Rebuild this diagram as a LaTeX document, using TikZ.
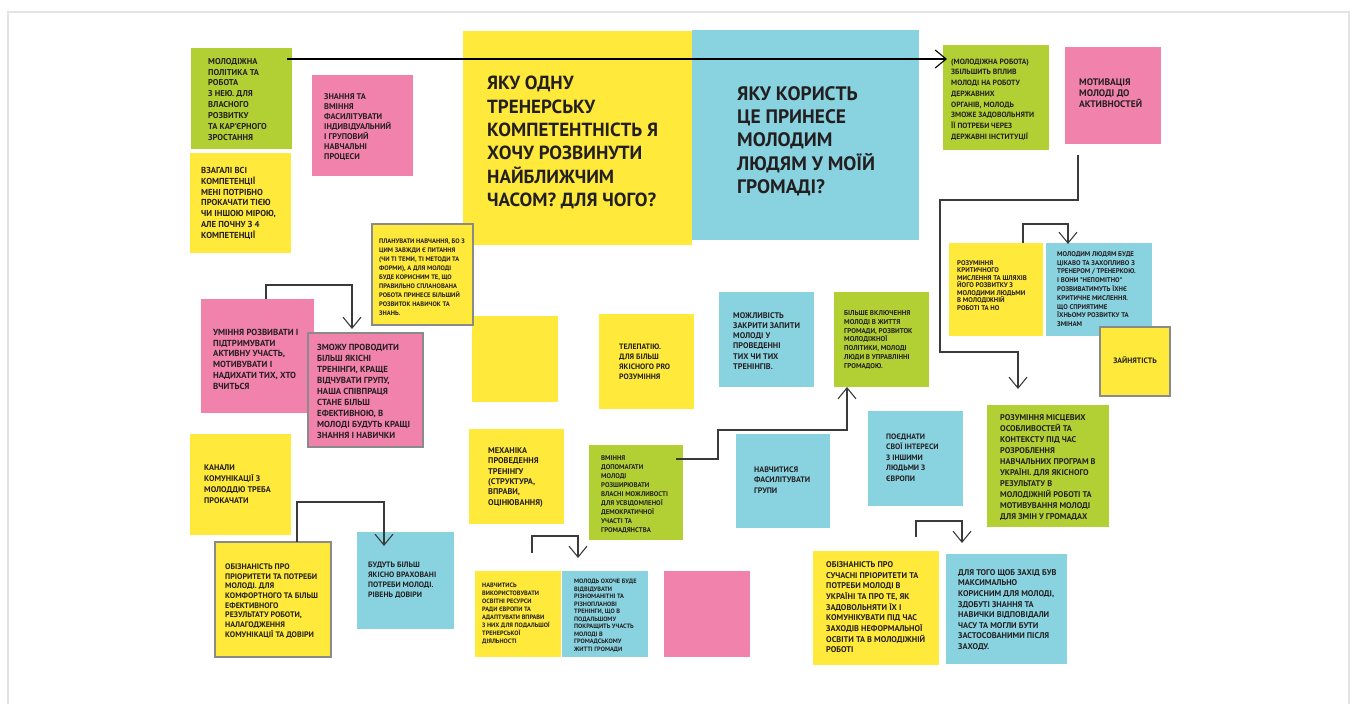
\documentclass[tikz,border=0pt]{standalone}
\usepackage{fontspec}
\setmainfont{PT Sans}
\usetikzlibrary{arrows.meta}
\definecolor{noteyellow}{HTML}{FFE93A}
\definecolor{notegreen}{HTML}{B2D034}
\definecolor{notepink}{HTML}{F182AB}
\definecolor{noteblue}{HTML}{89D3E1}
\definecolor{noteedge}{HTML}{8A8A8A}
\definecolor{inkdark}{HTML}{231F20}
\definecolor{linkgray}{HTML}{3A3A3A}
\begin{document}
\begin{tikzpicture}[x=1pt,y=-1pt,
  sticky/.style 2 args={rectangle,inner sep=0pt,outer sep=0pt,minimum width=#1pt,minimum height=#2pt},
  framed/.style={draw=noteedge,line width=1.4pt},
  txt/.style 2 args={anchor=north west,yshift=#1pt-2.5pt,align=left,inner sep=0pt,text=inkdark,
    font=\bfseries\fontsize{#1}{#2}\selectfont,execute at begin node={\rule{0pt}{#1pt}}},
  link/.style={draw=linkgray,line width=1.1pt,-{Straight Barb[length=11pt,width=18pt]}}]
  \useasboundingbox (0,0) rectangle (1352,704);

  % Board frame
  \draw[gray!22,line width=2pt] (8,12) rectangle (1349,712);

  % Left column
  \node[sticky={101}{101},fill=notegreen] (politics) at (241.5,98.5) {};
  \node[txt={8.5}{10.85}] (politics-t) at (208,64) {МОЛОДІЖНА\\ПОЛІТИКА ТА\\РОБОТА\\З НЕЮ. ДЛЯ\\ВЛАСНОГО\\РОЗВИТКУ\\ТА КАР’ЄРНОГО\\ЗРОСТАННЯ};
  \node[sticky={101}{101},fill=notepink] (skills) at (362.5,125.5) {};
  \node[txt={8.3}{10}] (skills-t) at (324,99) {ЗНАННЯ ТА\\ВМІННЯ\\ФАСИЛІТУВАТИ\\ІНДИВІДУАЛЬНИЙ\\І ГРУПОВИЙ\\НАВЧАЛЬНІ\\ПРОЦЕСИ};
  \node[sticky={101}{100},fill=noteyellow] (allcomp) at (240.5,203) {};
  \node[txt={8.7}{10.9}] (allcomp-t) at (201,173) {ВЗАГАЛІ ВСІ\\КОМПЕТЕНЦІЇ\\МЕНІ ПОТРІБНО\\ПРОКАЧАТИ ТІЄЮ\\ЧИ ІНШОЮ МІРОЮ,\\АЛЕ ПОЧНУ З 4\\КОМПЕТЕНЦІЇ};

  % Two questions
  \node[sticky={229}{214},fill=noteyellow] (question) at (577.5,138) {};
  \node[txt={19}{23.4}] (question-t) at (487,92.5) {ЯКУ ОДНУ\\ТРЕНЕРСЬКУ\\КОМПЕТЕНТНІСТЬ Я\\ХОЧУ РОЗВИНУТИ\\НАЙБЛИЖЧИМ\\ЧАСОМ? ДЛЯ ЧОГО?};
  \node[sticky={227}{210},fill=noteblue] (benefit) at (805.5,135) {};
  \node[txt={19.5}{23.3}] (benefit-t) at (737,103) {ЯКУ КОРИСТЬ\\ЦЕ ПРИНЕСЕ\\МОЛОДИМ\\ЛЮДЯМ У МОЇЙ\\ГРОМАДІ?};

  % Top right
  \node[sticky={106}{105},fill=notegreen] (influence) at (996,97.5) {};
  \node[txt={7.6}{10.7}] (influence-t) at (951,63.7) {(МОЛОДІЖНА РОБОТА)\\ЗБІЛЬШИТЬ ВПЛИВ\\МОЛОДІ НА РОБОТУ\\ДЕРЖАВНИХ\\ОРГАНІВ, МОЛОДЬ\\ЗМОЖЕ ЗАДОВОЛЬНЯТИ\\ЇЇ ПОТРЕБИ ЧЕРЕЗ\\ДЕРЖАВНІ ІНСТИТУЦІЇ};
  \node[sticky={96}{97},fill=notepink] (motivation) at (1113,95.5) {};
  \node[txt={9.5}{11}] (motivation-t) at (1079,85.3) {МОТИВАЦІЯ\\МОЛОДІ ДО\\АКТИВНОСТЕЙ};

  % Middle band
  \node[sticky={86}{86},fill=noteyellow] (blank) at (515,359) {};
  \node[sticky={101}{101},fill=noteyellow,framed] (planning) at (422.5,274.5) {};
  \node[txt={6.5}{9.1}] (planning-t) at (379,242.3) {ПЛАНУВАТИ НАВЧАННЯ, БО З\\ЦИМ ЗАВЖДИ Є ПИТАННЯ\\(ЧИ ТІ ТЕМИ, ТІ МЕТОДИ ТА\\ФОРМИ), А ДЛЯ МОЛОДІ\\БУДЕ КОРИСНИМ ТЕ, ЩО\\ПРАВИЛЬНО СПЛАНОВАНА\\РОБОТА ПРИНЕСЕ БІЛЬШИЙ\\РОЗВИТОК НАВИЧОК ТА\\ЗНАНЬ.};
  \node[sticky={113}{114},fill=notepink] (activeness) at (257.5,356) {};
  \node[txt={8.8}{10.9}] (activeness-t) at (213,335) {УМІННЯ РОЗВИВАТИ І\\ПІДТРИМУВАТИ\\АКТИВНУ УЧАСТЬ,\\МОТИВУВАТИ І\\НАДИХАТИ ТИХ, ХТО\\ВЧИТЬСЯ};
  \node[sticky={115}{114},fill=notepink,framed] (better) at (365.5,390) {};
  \node[txt={8.8}{11}] (better-t) at (317,350) {ЗМОЖУ ПРОВОДИТИ\\БІЛЬШ ЯКІСНІ\\ТРЕНІНГИ, КРАЩЕ\\ВІДЧУВАТИ ГРУПУ,\\НАША СПІВПРАЦЯ\\СТАНЕ БІЛЬШ\\ЕФЕКТИВНОЮ, В\\МОЛОДІ БУДУТЬ КРАЩІ\\ЗНАННЯ І НАВИЧКИ};
  \node[sticky={95}{95},fill=noteyellow] (telepathy) at (646.5,361.5) {};
  \node[txt={7.8}{10}] (telepathy-t) at (619,348.7) {ТЕЛЕПАТІЮ.\\ДЛЯ БІЛЬШ\\ЯКІСНОГО PRO\\РОЗУМІННЯ};
  \node[sticky={95}{95},fill=noteblue] (requests) at (766.5,339.5) {};
  \node[txt={8.2}{10.2}] (requests-t) at (733,318) {МОЖЛИВІСТЬ\\ЗАКРИТИ ЗАПИТИ\\МОЛОДІ У\\ПРОВЕДЕННІ\\ТИХ ЧИ ТИХ\\ТРЕНІНГІВ.};
  \node[sticky={95}{95},fill=notegreen] (inclusion) at (881.5,339.5) {};
  \node[txt={7}{8.9}] (inclusion-t) at (844,314.5) {БІЛЬШЕ ВКЛЮЧЕННЯ\\МОЛОДІ В ЖИТТЯ\\ГРОМАДИ, РОЗВИТОК\\МОЛОДІЖНОЇ\\ПОЛІТИКИ, МОЛОДІ\\ЛЮДИ В УПРАВЛІННІ\\ГРОМАДОЮ.};

  % Critical thinking pair
  \node[sticky={94}{93},fill=noteyellow] (critical) at (996,289.5) {};
  \node[txt={6.8}{7.5}] (critical-t) at (957,264.5) {РОЗУМІННЯ\\КРИТИЧНОГО\\МИСЛЕННЯ ТА ШЛЯХІВ\\ЙОГО РОЗВИТКУ З\\МОЛОДИМИ ЛЮДЬМИ\\В МОЛОДІЖНІЙ\\РОБОТІ ТА НО};
  \node[sticky={106}{93},fill=noteblue] (interest) at (1099,289.5) {};
  \node[txt={6.8}{8.8}] (interest-t) at (1057,255.5) {МОЛОДИМ ЛЮДЯМ БУДЕ\\ЦІКАВО ТА ЗАХОПЛИВО З\\ТРЕНЕРОМ / ТРЕНЕРКОЮ.\\І ВОНИ *НЕПОМІТНО*\\РОЗВИВАТИМУТЬ ЇХНЄ\\КРИТИЧНЕ МИСЛЕННЯ.\\ЩО СПРИЯТИМЕ\\ЇХНЬОМУ РОЗВИТКУ ТА\\ЗМІНАМ};
  \node[sticky={70}{69},fill=noteyellow,framed] (employment) at (1135,361.5) {};
  \node[anchor=center,inner sep=0pt,text=inkdark,font=\bfseries\fontsize{7.8}{10}\selectfont] (employment-t) at (1135,360) {ЗАЙНЯТІСТЬ};

  % Lower band
  \node[sticky={95}{95},fill=noteyellow] (mechanics) at (516.5,476.5) {};
  \node[txt={8.3}{10.4}] (mechanics-t) at (488,453) {МЕХАНІКА\\ПРОВЕДЕННЯ\\ТРЕНІНГУ\\(СТРУКТУРА,\\ВПРАВИ,\\ОЦІНЮВАННЯ)};
  \node[sticky={94}{95},fill=notegreen] (democracy) at (636,492.5) {};
  \node[txt={6.8}{9}] (democracy-t) at (601,459.5) {ВМІННЯ\\ДОПОМАГАТИ\\МОЛОДІ\\РОЗШИРЮВАТИ\\ВЛАСНІ МОЖЛИВОСТІ\\ДЛЯ УСВІДОМЛЕНОЇ\\ДЕМОКРАТИЧНОЇ\\УЧАСТІ ТА\\ГРОМАДЯНСТВА};
  \node[sticky={94}{94},fill=noteblue] (facilitate) at (783,481) {};
  \node[txt={8}{10.5}] (facilitate-t) at (754,472) {НАВЧИТИСЯ\\ФАСИЛІТУВАТИ\\ГРУПИ};
  \node[sticky={95}{95},fill=noteblue] (europe) at (915.5,458.5) {};
  \node[txt={7.8}{10.4}] (europe-t) at (886,439) {ПОЄДНАТИ\\СВОЇ ІНТЕРЕСИ\\З ІНШИМИ\\ЛЮДЬМИ З\\ЄВРОПИ};
  \node[sticky={122}{122},fill=notegreen] (local) at (1048,466) {};
  \node[txt={8.3}{11}] (local-t) at (1000,420) {РОЗУМІННЯ МІСЦЕВИХ\\ОСОБЛИВОСТЕЙ ТА\\КОНТЕКСТУ ПІД ЧАС\\РОЗРОБЛЕННЯ\\НАВЧАЛЬНИХ ПРОГРАМ В\\УКРАЇНІ. ДЛЯ ЯКІСНОГО\\РЕЗУЛЬТАТУ В\\МОЛОДІЖНІЙ РОБОТІ ТА\\МОТИВУВАННЯ МОЛОДІ\\ДЛЯ ЗМІН У ГРОМАДАХ};
  \node[sticky={101}{101},fill=noteyellow] (channels) at (240.5,484.5) {};
  \node[txt={8.2}{11.1}] (channels-t) at (204,470) {КАНАЛИ\\КОМУНІКАЦІЇ З\\МОЛОДДЮ ТРЕБА\\ПРОКАЧАТИ};

  % Bottom row
  \node[sticky={116}{115},fill=noteyellow,framed] (awareness) at (273,599.5) {};
  \node[txt={8}{9.7}] (awareness-t) at (225,569) {ОБІЗНАНІСТЬ ПРО\\ПРІОРИТЕТИ ТА ПОТРЕБИ\\МОЛОДІ. ДЛЯ\\КОМФОРТНОГО ТА БІЛЬШ\\ЕФЕКТИВНОГО\\РЕЗУЛЬТАТУ РОБОТИ,\\НАЛАГОДЖЕННЯ\\КОМУНІКАЦІЇ ТА ДОВІРИ};
  \node[sticky={97}{97},fill=noteblue] (trust) at (405.5,580.5) {};
  \node[txt={7.8}{10}] (trust-t) at (368,567) {БУДУТЬ БІЛЬШ\\ЯКІСНО ВРАХОВАНІ\\ПОТРЕБИ МОЛОДІ.\\РІВЕНЬ ДОВІРИ};
  \node[sticky={86}{86},fill=noteyellow] (resources) at (518,614) {};
  \node[txt={6.3}{8}] (resources-t) at (482,587) {НАВЧИТИСЬ\\ВИКОРИСТОВУВАТИ\\ОСВІТНІ РЕСУРСИ\\РАДИ ЄВРОПИ ТА\\АДАПТУВАТИ ВПРАВИ\\З НИХ ДЛЯ ПОДАЛЬШОЇ\\ТРЕНЕРСЬКОЇ\\ДІЯЛЬНОСТІ};
  \node[sticky={86}{86},fill=noteblue] (trainings) at (605,614) {};
  \node[txt={6.3}{7.5}] (trainings-t) at (574,583) {МОЛОДЬ ОХОЧЕ БУДЕ\\ВІДВІДУВАТИ\\РІЗНОМАНІТНІ ТА\\РІЗНОПЛАНОВІ\\ТРЕНІНГИ, ЩО В\\ПОДАЛЬШОМУ\\ПОКРАЩИТЬ УЧАСТЬ\\МОЛОДІ В\\ГРОМАДСЬКОМУ\\ЖИТТІ ГРОМАДИ};
  \node[sticky={86}{86},fill=notepink] (blankpink) at (707,614) {};
  \node[sticky={126}{114},fill=noteyellow] (modern) at (876,608) {};
  \node[txt={8.3}{10.7}] (modern-t) at (826,567) {ОБІЗНАНІСТЬ ПРО\\СУЧАСНІ ПРІОРИТЕТИ ТА\\ПОТРЕБИ МОЛОДІ В\\УКРАЇНІ ТА ПРО ТЕ, ЯК\\ЗАДОВОЛЬНЯТИ ЇХ І\\КОМУНІКУВАТИ ПІД ЧАС\\ЗАХОДІВ НЕФОРМАЛЬНОЇ\\ОСВІТИ ТА В МОЛОДІЖНІЙ\\РОБОТІ};
  \node[sticky={121}{110},fill=noteblue] (useful) at (1006.5,609) {};
  \node[txt={8.3}{10.6}] (useful-t) at (958,575) {ДЛЯ ТОГО ЩОБ ЗАХІД БУВ\\МАКСИМАЛЬНО\\КОРИСНИМ ДЛЯ МОЛОДІ,\\ЗДОБУТІ ЗНАННЯ ТА\\НАВИЧКИ ВІДПОВІДАЛИ\\ЧАСУ ТА МОГЛИ БУТИ\\ЗАСТОСОВАНИМИ ПІСЛЯ\\ЗАХОДУ.};

  % Connectors
  \draw[link,draw=black] ([xshift=-5pt,yshift=39.5pt]politics.east) -- ([xshift=4pt,yshift=38.5pt]influence.west);
  \draw[link] ([xshift=-35pt,yshift=-11pt]motivation.south) -- ++(0,45) -- ++(-138,0) -- ++(0,152) -| ([xshift=-30pt,yshift=16pt]local.north);
  \draw[link] ([xshift=27pt]critical.north) -- ++(0,-19) -| ([xshift=-31pt,yshift=-1pt]interest.north);
  \draw[link] ([xshift=8.5pt]activeness.north) -- ++(0,-14) -| ([xshift=-13.5pt,yshift=4pt]better.north);
  \draw[link] ([xshift=24pt]awareness.north) -- ++(0,-40) -| ([xshift=-21.5pt,yshift=-14pt]trust.north);
  \draw[link] ([xshift=14pt,yshift=18pt]resources.north) -- ++(0,-17) -| ([xshift=-27pt,yshift=13pt]trainings.north);
  \draw[link] ([xshift=-7pt,yshift=33.5pt]democracy.east) -- ++(42,0) -- ++(0,-29) -| ([xshift=-34.5pt]inclusion.south);
  \draw[link] ([xshift=40pt,yshift=14pt]modern.north) -- ++(0,-16) -| ([xshift=-44.5pt,yshift=11pt]useful.north);
\end{tikzpicture}
\end{document}
